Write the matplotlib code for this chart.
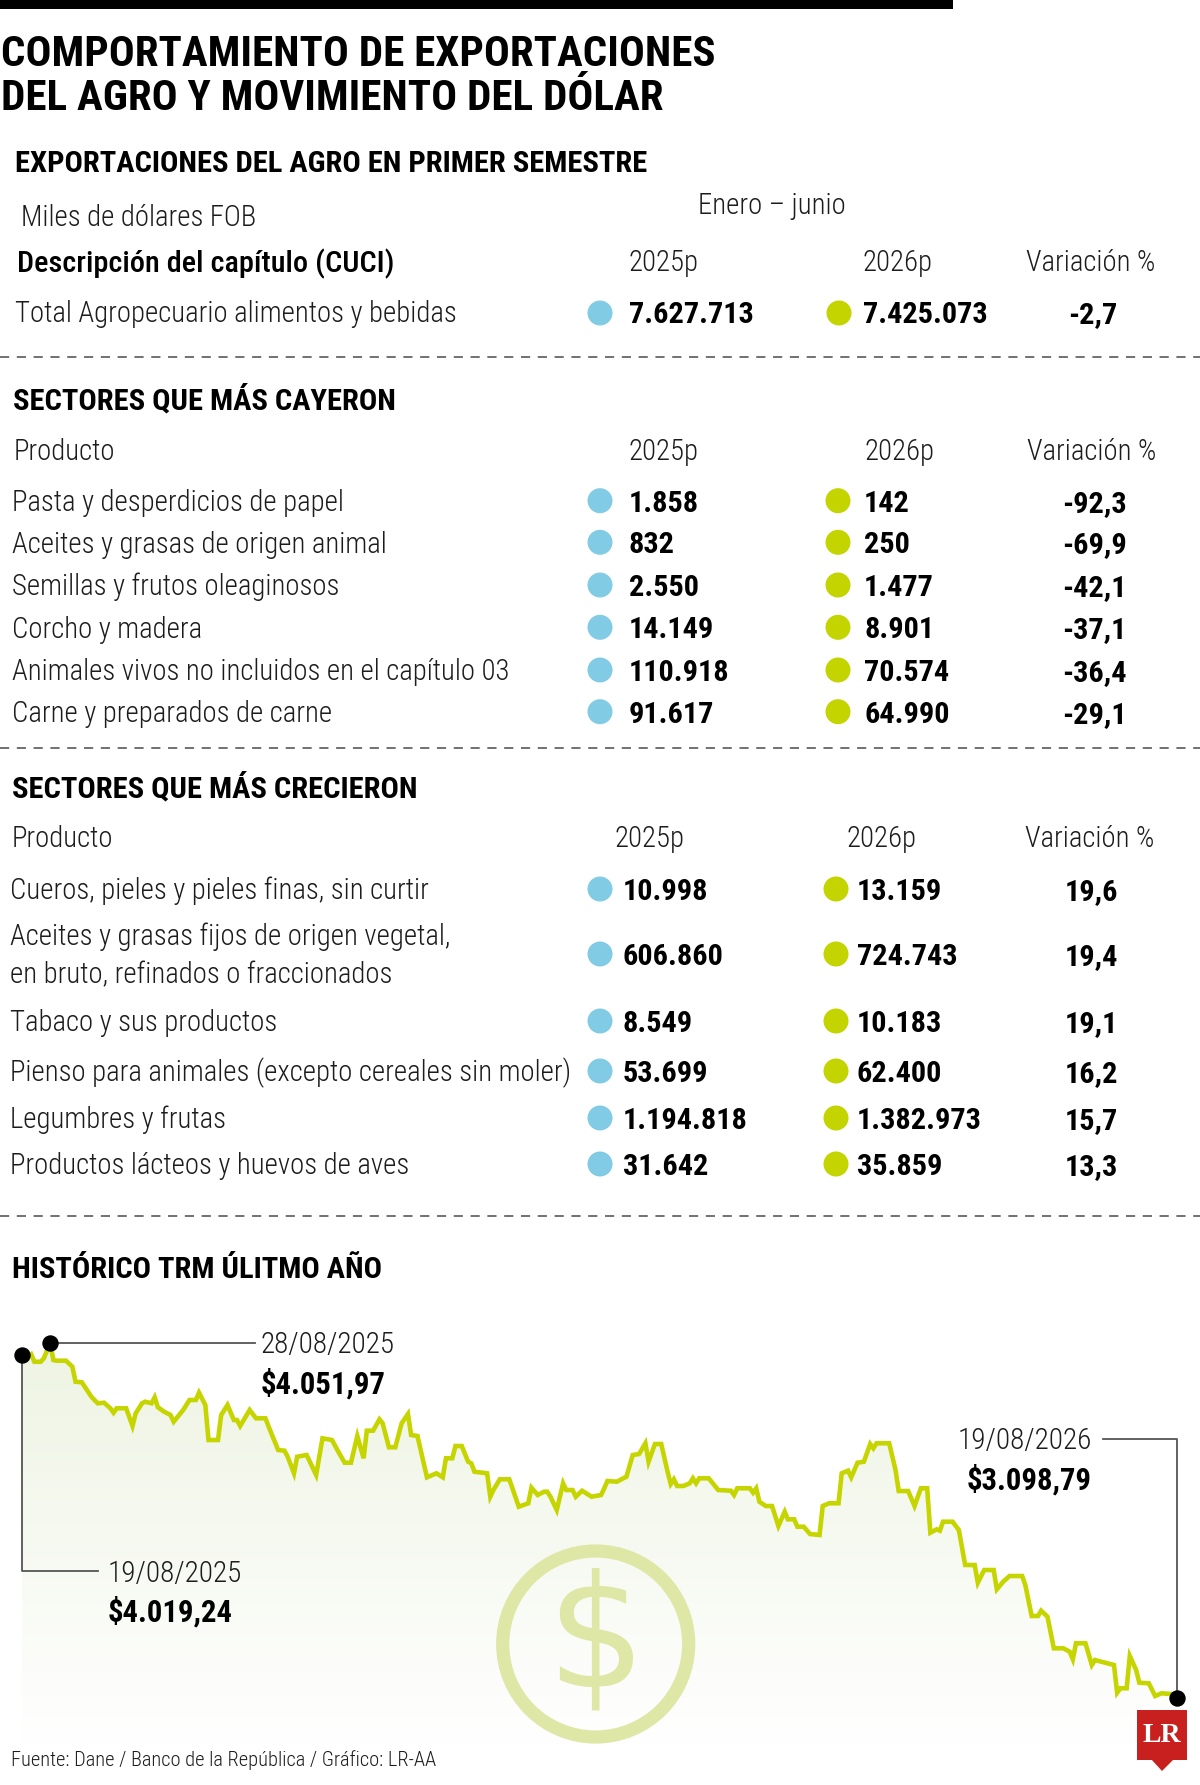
import numpy as np
import matplotlib
matplotlib.use('Agg')
import matplotlib.pyplot as plt
import matplotlib.font_manager as fm
from matplotlib import transforms as mtrans
from matplotlib.patches import Circle, Rectangle, Polygon
from matplotlib.lines import Line2D
from matplotlib.colors import LinearSegmentedColormap

# ---------------- DATA ----------------
title_lines = ["COMPORTAMIENTO DE EXPORTACIONES", "DEL AGRO Y MOVIMIENTO DEL DÓLAR"]

total_label = "Total Agropecuario alimentos y bebidas"
total_2025 = 7627713
total_2026 = 7425073
total_var = -2.7

fell_labels = ["Pasta y desperdicios de papel",
               "Aceites y grasas de origen animal",
               "Semillas y frutos oleaginosos",
               "Corcho y madera",
               "Animales vivos no incluidos en el capítulo 03",
               "Carne y preparados de carne"]
fell_2025 = [1858, 832, 2550, 14149, 110918, 91617]
fell_2026 = [142, 250, 1477, 8901, 70574, 64990]
fell_var = [-92.3, -69.9, -42.1, -37.1, -36.4, -29.1]

grew_labels = ["Cueros, pieles y pieles finas, sin curtir",
               "Aceites y grasas fijos de origen vegetal,\nen bruto, refinados o fraccionados",
               "Tabaco y sus productos",
               "Pienso para animales (excepto cereales sin moler)",
               "Legumbres y frutas",
               "Productos lácteos y huevos de aves"]
grew_2025 = [10998, 606860, 8549, 53699, 1194818, 31642]
grew_2026 = [13159, 724743, 10183, 62400, 1382973, 35859]
grew_var = [19.6, 19.4, 19.1, 16.2, 15.7, 13.3]

# TRM: days since 19/08/2025 and COP per USD
trm_day = [0, 1, 2, 3, 4, 6, 7, 9, 10, 11,
           14, 16, 17, 19, 22, 23, 24, 26, 28, 29,
           30, 33, 35, 36, 38, 39, 41, 42, 43, 45,
           47, 48, 51, 53, 55, 56, 58, 59, 62, 63,
           65, 67, 68, 69, 72, 74, 77, 78, 81, 83,
           84, 86, 87, 90, 93, 95, 98, 100, 102, 104,
           106, 108, 109, 111, 113, 114, 116, 118, 120, 122,
           123, 125, 128, 131, 133, 134, 136, 137, 139, 141,
           142, 143, 147, 148, 149, 151, 154, 155, 157, 160,
           161, 163, 165, 166, 167, 169, 171, 172, 174, 175,
           177, 180, 183, 184, 185, 188, 190, 191, 193, 195,
           197, 198, 200, 202, 204, 205, 206, 207, 209, 211,
           212, 213, 214, 217, 220, 224, 225, 226, 230, 231,
           232, 233, 235, 237, 239, 241, 242, 244, 245, 247,
           249, 252, 253, 255, 258, 259, 261, 262, 264, 266,
           268, 269, 270, 274, 276, 277, 280, 282, 284, 286,
           287, 289, 290, 291, 294, 296, 298, 301, 302, 304,
           307, 308, 310, 312, 316, 317, 319, 321, 322, 324,
           326, 329, 331, 332, 333, 336, 338, 339, 341, 345,
           346, 347, 349, 350, 352, 353, 356, 358, 360, 363,
           365]
trm_value = [4019.24, 4023.8, 4014.7, 4021.1, 4001.2, 4001.2, 4010.4, 4051.97, 4005.8, 4003.9,
             4003.9, 3987.8, 3947.5, 3945.9, 3907.2, 3898.4, 3889.5, 3891.1, 3876.1, 3864.2,
             3876.1, 3876.1, 3828.5, 3862.6, 3889.5, 3893.8, 3889.5, 3905.6, 3878.8, 3867.0,
             3858.1, 3840.1, 3871.5, 3898.4, 3898.4, 3918.0, 3884.9, 3790.9, 3790.9, 3858.1,
             3884.9, 3844.6, 3844.6, 3828.5, 3871.5, 3849.2, 3849.2, 3826.6, 3764.1, 3762.2,
             3746.1, 3701.5, 3746.1, 3750.6, 3696.9, 3795.5, 3790.9, 3759.5, 3729.9, 3729.9,
             3801.7, 3741.8, 3815.9, 3815.9, 3846.5, 3835.8, 3771.3, 3771.3, 3835.8, 3860.8,
             3804.4, 3801.7, 3690.7, 3701.5, 3690.7, 3741.8, 3741.8, 3774.8, 3774.8, 3732.6,
             3728.3, 3705.8, 3701.5, 3638.6, 3656.6, 3685.4, 3685.4, 3661.2, 3611.8, 3620.9,
             3662.8, 3643.2, 3652.1, 3652.1, 3638.6, 3602.9, 3674.6, 3656.6, 3656.6, 3638.6,
             3654.7, 3638.6, 3643.2, 3661.2, 3680.8, 3678.9, 3688.1, 3692.3, 3750.6, 3753.3,
             3782.1, 3732.6, 3780.2, 3780.2, 3705.8, 3672.7, 3685.4, 3667.4, 3667.4, 3674.6,
             3688.1, 3674.6, 3688.1, 3688.1, 3656.6, 3654.7, 3643.2, 3661.2, 3661.2, 3649.4,
             3661.2, 3625.2, 3613.6, 3613.6, 3559.9, 3598.3, 3577.9, 3577.9, 3558.0, 3558.0,
             3538.4, 3535.8, 3613.6, 3620.9, 3620.9, 3701.5, 3708.5, 3690.7, 3729.9, 3732.6,
             3780.2, 3768.6, 3782.1, 3782.1, 3710.3, 3653.9, 3653.9, 3613.6, 3661.2, 3661.2,
             3541.9, 3551.0, 3547.3, 3571.5, 3571.5, 3549.2, 3455.2, 3455.2, 3407.6, 3441.7,
             3441.7, 3389.9, 3410.3, 3425.6, 3425.6, 3401.4, 3318.2, 3318.2, 3332.4, 3316.3,
             3231.4, 3231.4, 3222.3, 3201.9, 3244.9, 3244.9, 3186.6, 3200.0, 3195.4, 3186.6,
             3112.2, 3124.0, 3124.0, 3210.7, 3173.1, 3139.0, 3137.4, 3103.3, 3110.5, 3108.7,
             3098.79]
n = min(len(trm_day), len(trm_value))
trm_day, trm_value = trm_day[:n], trm_value[:n]

marked_dates = ["19/08/2025", "28/08/2025", "19/08/2026"]
marked_idx = [0, int(np.argmax(trm_value)), n - 1]

source = "Fuente: Dane / Banco de la República / Gráfico: LR-AA"

# ---------------- STYLE ----------------
INK = '#1c1c1c'
BLUE = '#82cbe4'
GREEN = '#c4d400'
LINE = '#c6d500'
RING = '#dfe7a6'
GRAY = '#555555'
RED = '#c8201f'

W, H, DPI = 1200, 1785, 100
fig = plt.figure(figsize=(W / DPI, H / DPI), dpi=DPI)
fig.patch.set_facecolor('white')
# pixel coordinates measured from the top-left corner
PX = mtrans.Affine2D().scale(1 / DPI, -1 / DPI).translate(0, H / DPI) + fig.dpi_scale_trans

entries = fm.fontManager.ttflist
names = {e.name for e in entries}
COND, STRETCH = None, 'normal'
for c in ['Roboto Condensed', 'Open Sans Condensed', 'Noto Sans Condensed',
          'Liberation Sans Narrow', 'Arial Narrow', 'DejaVu Sans Condensed']:
    if c in names:
        COND = c
        break
if COND is None:
    for e in entries:
        if e.name in ('Noto Sans', 'Open Sans', 'Roboto', 'DejaVu Sans') and \
                str(e.stretch) in ('condensed', 'semi-condensed', 'extra-condensed', '300', '400', '200'):
            COND, STRETCH = e.name, 'condensed'
            break
if COND is None:
    COND = 'Roboto' if 'Roboto' in names else 'DejaVu Sans'
FAM = [COND, 'DejaVu Sans']

R = fig.canvas.get_renderer()


def fit(s, weight, width, cap):
    t = fig.text(0, 0, s, fontsize=20, fontweight=weight, family=FAM, fontstretch=STRETCH)
    w = t.get_window_extent(renderer=R).width
    t.remove()
    return min(20.0 * width / w, cap)


FS_TITLE = fit(title_lines[0], 'bold', 768, 31)
FS_HEAD = fit("EXPORTACIONES DEL AGRO EN PRIMER SEMESTRE", 'bold', 632, 23)
FS_BODY = fit(grew_labels[3], 'light', 559, 23)
FS_MED = fit("Descripción del capítulo (CUCI)", 'medium', 377, 24)
FS_NUM = fit("1.194.818", 'bold', 125, 25)
FS_ADATE = fit("28/08/2025", 'light', 135, 23)
FS_AVAL = fit("$4.051,97", 'bold', 125, 25)
FS_FOOT = fit(source, 'light', 425, 21)


def put(x, yc, s, fs, weight='light', ha='left', color=INK, target=None, z=6):
    kw = dict(fontsize=fs, fontweight=weight, ha=ha, va='baseline', color=color,
              family=FAM, fontstretch=STRETCH, transform=PX)
    if target is None:
        return fig.text(x, yc + fs * 0.5, s, **kw)
    return target.text(x, yc + fs * 0.5, s, clip_on=False, zorder=z, **kw)


def fmt_int(v):
    return f"{v:,}".replace(',', '.')


def fmt_var(v):
    return f"{v:.1f}".replace('.', ',')


def dash(y):
    fig.add_artist(Line2D([0, W], [y, y], transform=PX, color='#4a4a4a', lw=1.1, dashes=(6, 5)))


def dot(x, y, c):
    fig.add_artist(Circle((x, y), 12.5, transform=PX, color=c, lw=0))


# ---------------- HEADER ----------------
fig.add_artist(Rectangle((0, 0), 953, 9, transform=PX, color='black', lw=0))
put(1, 50, title_lines[0], FS_TITLE, 'bold', color='black')
put(1, 95, title_lines[1], FS_TITLE, 'bold', color='black')

# ---------------- SECTION 1 ----------------
put(15, 161.5, "EXPORTACIONES DEL AGRO EN PRIMER SEMESTRE", FS_HEAD, 'bold', color='black')
put(21, 216, "Miles de dólares FOB", FS_BODY)
put(698, 204, "Enero – junio", FS_BODY)
put(17, 261, "Descripción del capítulo (CUCI)", FS_MED, 'medium', color='black')
put(629, 261, "2025p", FS_BODY)
put(863, 261, "2026p", FS_BODY)
put(1026, 261, "Variación %", FS_BODY)
put(15, 312, total_label, FS_BODY)
dot(600, 313, BLUE)
dot(839, 313, GREEN)
put(629, 312, fmt_int(total_2025), FS_NUM, 'bold', color='black')
put(863, 312, fmt_int(total_2026), FS_NUM, 'bold', color='black')
put(1093, 312, fmt_var(total_var), FS_NUM, 'bold', ha='center', color='black')
dash(357)

# ---------------- SECTION 2 ----------------
put(13, 398, "SECTORES QUE MÁS CAYERON", FS_HEAD, 'bold', color='black')
put(14, 450, "Producto", FS_BODY)
put(629, 450, "2025p", FS_BODY)
put(864, 450, "2026p", FS_BODY)
put(1027, 450, "Variación %", FS_BODY)
fell_y = [500.7, 542.3, 585, 627.3, 670, 711.7]
for lab, a, b, v, y in zip(fell_labels, fell_2025, fell_2026, fell_var, fell_y):
    put(12, y, lab, FS_BODY)
    dot(600, y, BLUE)
    dot(838, y, GREEN)
    put(629, y, fmt_int(a), FS_NUM, 'bold', color='black')
    put(864, y, fmt_int(b), FS_NUM, 'bold', color='black')
    put(1094, y, fmt_var(v), FS_NUM, 'bold', ha='center', color='black')
dash(748)

# ---------------- SECTION 3 ----------------
put(12, 786, "SECTORES QUE MÁS CRECIERON", FS_HEAD, 'bold', color='black')
put(12, 836.5, "Producto", FS_BODY)
put(614, 836.5, "2025p", FS_BODY)
put(847, 836.5, "2026p", FS_BODY)
put(1025, 836.5, "Variación %", FS_BODY)
grew_y = [889, 954, 1021, 1071, 1118, 1164]
for lab, a, b, v, y in zip(grew_labels, grew_2025, grew_2026, grew_var, grew_y):
    parts = lab.split('\n')
    if len(parts) == 1:
        put(10, y, parts[0], FS_BODY)
    else:
        put(10, y - 19, parts[0], FS_BODY)
        put(10, y + 19, parts[1], FS_BODY)
    dot(600, y, BLUE)
    dot(836, y, GREEN)
    put(623, y, fmt_int(a), FS_NUM, 'bold', color='black')
    put(857, y, fmt_int(b), FS_NUM, 'bold', color='black')
    put(1091, y, fmt_var(v), FS_NUM, 'bold', ha='center', color='black')
dash(1216)

# ---------------- SECTION 4: TRM line ----------------
put(12, 1267.5, "HISTÓRICO TRM ÚLITMO AÑO", FS_HEAD, 'bold', color='black')
put(11, 1759, source, FS_FOOT)

CH_L, CH_R, CH_T, CH_B = 21.7, 1177.3, 1330, 1745
Y_LO, Y_HI = 2971.7, 4086.4
ax = fig.add_axes([CH_L / W, 1 - CH_B / H, (CH_R - CH_L) / W, (CH_B - CH_T) / H])
ax.patch.set_visible(False)
ax.set_axis_off()

grad = np.linspace(0, 1, 256)[:, None]
cmap = LinearSegmentedColormap.from_list('fade', ['#ffffff', '#eef4e3'])
im = ax.imshow(grad, extent=[trm_day[0], trm_day[-1], Y_LO, max(trm_value)], origin='lower',
               aspect='auto', cmap=cmap, zorder=1, interpolation='bilinear')
verts = list(zip(trm_day, trm_value)) + [(trm_day[-1], Y_LO), (trm_day[0], Y_LO)]
clip = Polygon(verts, closed=True, facecolor='none', edgecolor='none', transform=ax.transData)
ax.add_patch(clip)
im.set_clip_path(clip)

ax.plot(trm_day, trm_value, color=LINE, lw=3.3, zorder=3, solid_joinstyle='miter')
ax.set_xlim(trm_day[0], trm_day[-1])
ax.set_ylim(Y_LO, Y_HI)

# dollar icon
ax.add_patch(Circle((595.7, 1644), 93, transform=PX, fill=False, ec=RING, lw=9.5,
                    zorder=2, clip_on=False))
ax.text(595.7, 1644, '$', transform=PX, fontsize=112, family='DejaVu Sans', color=RING,
        ha='center', va='center', zorder=2, clip_on=False)

# LR logo
ax.add_patch(Rectangle((1137, 1710), 50, 50, transform=PX, color=RED, lw=0, zorder=4.5, clip_on=False))
ax.add_patch(Polygon([(1151, 1759), (1174, 1759), (1162, 1771)], closed=True, transform=PX,
                     color=RED, lw=0, zorder=4.5, clip_on=False))
ax.text(1162, 1736, 'LR', transform=PX, fontsize=20, fontweight='bold',
        family=['Liberation Serif', 'DejaVu Serif'], color='white', ha='center', va='center',
        zorder=4.6, clip_on=False)


def to_px(d, v):
    p = ax.transData.transform((d, v))
    return p[0], H - p[1]


pts = [to_px(trm_day[i], trm_value[i]) for i in marked_idx]
(x0, y0), (x1, y1), (x2, y2) = pts
conn = dict(transform=PX, color=GRAY, lw=1.3, zorder=4, clip_on=False)
ax.add_line(Line2D([x0, x0, 97.6], [y0, 1571, 1571], **conn))
ax.add_line(Line2D([x1, 254.5], [y1, y1], **conn))
ax.add_line(Line2D([x2, x2, 1103], [y2, 1438.8, 1438.8], **conn))
ax.plot([trm_day[i] for i in marked_idx], [trm_value[i] for i in marked_idx], 'o',
        color='black', ms=10.8, zorder=5, clip_on=False)


def money(v):
    s = f"{v:,.2f}"
    return "$" + s.replace(',', 'X').replace('.', ',').replace('X', '.')


put(108, 1571, marked_dates[0], FS_ADATE, target=ax)
put(108, 1610, money(trm_value[marked_idx[0]]), FS_AVAL, 'bold', color='black', target=ax)
put(261, 1342, marked_dates[1], FS_ADATE, target=ax)
put(261, 1382, money(trm_value[marked_idx[1]]), FS_AVAL, 'bold', color='black', target=ax)
put(1092, 1438.5, marked_dates[2], FS_ADATE, ha='right', target=ax)
put(1092, 1478, money(trm_value[marked_idx[2]]), FS_AVAL, 'bold', ha='right', color='black', target=ax)

fig.savefig('out.png', dpi=DPI, facecolor='white')
